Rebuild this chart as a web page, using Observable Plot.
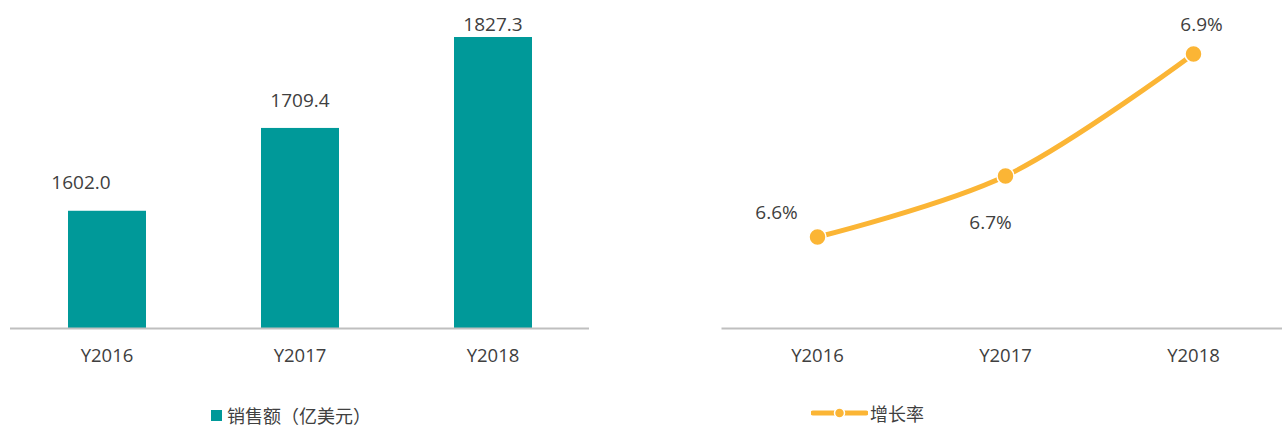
<!DOCTYPE html>
<html>
<head>
<meta charset="utf-8">
<script src="https://cdn.jsdelivr.net/npm/d3@7"></script>
<script src="https://cdn.jsdelivr.net/npm/@observablehq/plot@0.6"></script>
<style>
  html, body { margin: 0; padding: 0; background: #fff; overflow: hidden; width: 1282px; height: 429px; }
  #wrap { position: relative; width: 1282px; height: 429px; overflow: hidden;
          font-family: "Open Sans", "Noto Sans CJK SC", sans-serif; color: #404040; }
  #left { position: absolute; left: 0; top: 0; width: 600px; }
  #right { position: absolute; left: 700px; top: 0; width: 588px; }
  #wrap svg { max-width: none !important; }
  .legend { position: absolute; display: flex; align-items: center; font-size: 18px; line-height: 1; color: #404040;
            font-family: "Noto Sans CJK SC", "Open Sans", sans-serif; white-space: nowrap; }
  #legL { left: 211px; top: 406px; }
  #legR { left: 811px; top: 404px; }
  .sw { width: 11px; height: 11px; background: #009999; margin-right: 5px; }
</style>
</head>
<body>
<div id="wrap">
  <div id="left"></div>
  <div id="right"></div>
  <div class="legend" id="legL"><div class="sw"></div><span>销售额（亿美元）</span></div>
  <div class="legend" id="legR"><svg width="57" height="12" style="margin-right:2px"><line x1="2" x2="55" y1="6" y2="6" stroke="#FBB535" stroke-width="5" stroke-linecap="round"/><circle cx="28.5" cy="6" r="5" fill="#FBB535" stroke="#fff" stroke-width="1.5"/></svg><span>增长率</span></div>
</div>
<script>
const years = ["Y2016", "Y2017", "Y2018"];
const sales = [1602.0, 1709.4, 1827.3];
const growth = [6.6, 6.7, 6.9];

const barColor = "#009999";
const lineColor = "#FBB535";
const textColor = "#404040";
const axisColor = "#BFBFBF";
const font = "'Open Sans', 'Noto Sans CJK SC', sans-serif";

const salesData = years.map((y, i) => ({year: y, value: sales[i], i}));
const growthData = years.map((y, i) => ({year: y, value: growth[i], i}));

const H = 380;
const labelSize = 19;
const tickSize = 18.5;

const left = Plot.plot({
  width: 600,
  height: H,
  marginLeft: 10,
  marginRight: 11,
  marginTop: 19.5,
  marginBottom: H - 328,
  style: {fontFamily: font, color: textColor, fontSize: "16px", background: "transparent", overflow: "visible"},
  x: {domain: years, padding: 0, label: null},
  y: {domain: [1450, 1850], axis: null},
  marks: [
    Plot.barY(salesData, {x: "year", y1: 1450, y2: "value", fill: barColor, insetLeft: 58, insetRight: 57}),
    Plot.ruleY([1450], {stroke: axisColor, strokeWidth: 2}),
    Plot.axisX({tickSize: 0, tickPadding: 20, fontSize: tickSize, fill: textColor}),
    Plot.text(salesData.filter(d => d.i === 0), {x: "year", y: "value", text: d => d.value.toFixed(1), dy: -28, dx: -26, fontSize: labelSize, fill: textColor}),
    Plot.text(salesData.filter(d => d.i === 1), {x: "year", y: "value", text: d => d.value.toFixed(1), dy: -28, fontSize: labelSize, fill: textColor}),
    Plot.text(salesData.filter(d => d.i === 2), {x: "year", y: "value", text: d => d.value.toFixed(1), dy: -13, fontSize: labelSize, fill: textColor})
  ]
});
document.getElementById("left").appendChild(left);

const fmt = d => d.value.toFixed(1) + "%";
const right = Plot.plot({
  width: 588,
  height: H,
  marginLeft: 21.5,
  marginRight: 0,
  marginTop: 23,
  marginBottom: H - 328,
  style: {fontFamily: font, color: textColor, fontSize: "16px", background: "transparent", overflow: "visible"},
  x: {type: "point", domain: years, padding: 0.5, label: null},
  y: {domain: [6.45, 6.95], axis: null},
  marks: [
    Plot.ruleY([6.45], {stroke: axisColor, strokeWidth: 2}),
    Plot.axisX({tickSize: 0, tickPadding: 20, fontSize: tickSize, fill: textColor}),
    Plot.line(growthData, {x: "year", y: "value", stroke: lineColor, strokeWidth: 5, curve: "catmull-rom"}),
    Plot.dot(growthData, {x: "year", y: "value", r: 8.5, fill: lineColor, stroke: "#fff", strokeWidth: 1.5}),
    Plot.text(growthData.filter(d => d.i === 0), {x: "year", y: "value", text: fmt, dx: -41, dy: -24, fontSize: labelSize, fill: textColor}),
    Plot.text(growthData.filter(d => d.i === 1), {x: "year", y: "value", text: fmt, dx: -15, dy: 47, fontSize: labelSize, fill: textColor}),
    Plot.text(growthData.filter(d => d.i === 2), {x: "year", y: "value", text: fmt, dx: 8, dy: -29, fontSize: labelSize, fill: textColor})
  ]
});
document.getElementById("right").appendChild(right);
</script>
</body>
</html>
